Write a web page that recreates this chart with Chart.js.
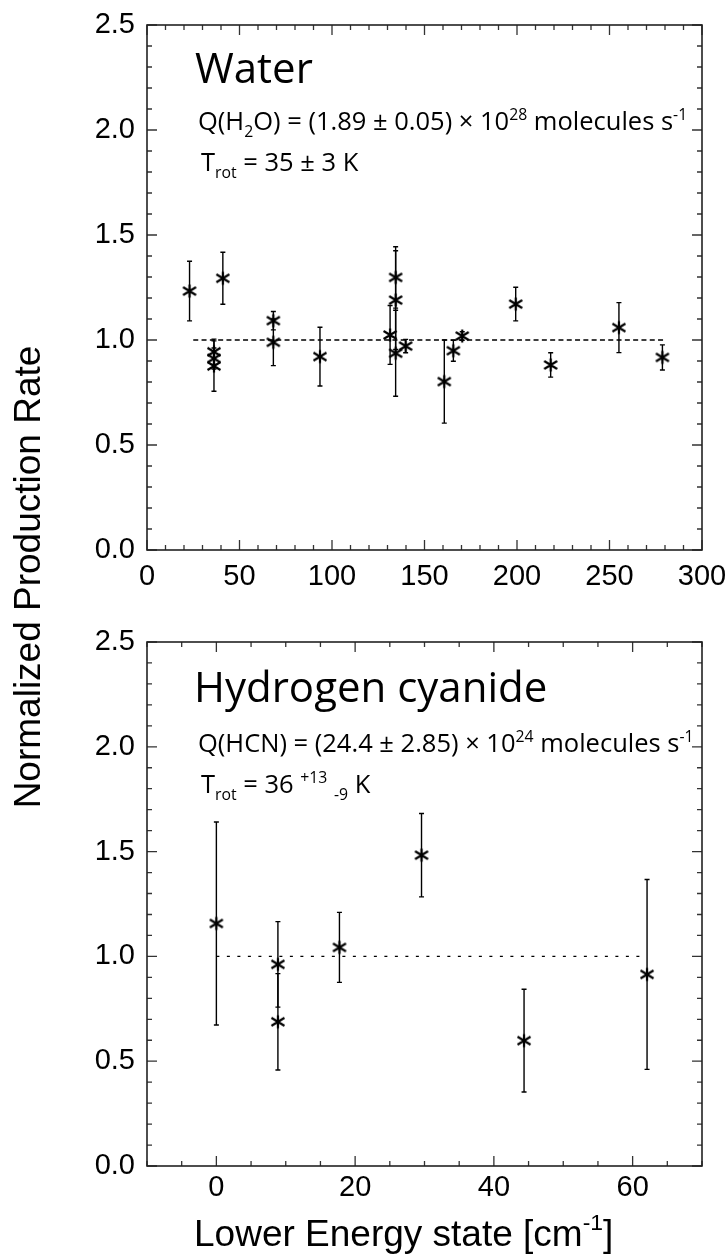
<!DOCTYPE html>
<html><head><meta charset="utf-8">
<script src="https://cdn.jsdelivr.net/npm/chart.js@4.4.1/dist/chart.umd.min.js"></script>
<style>
html,body{margin:0;padding:0;background:#fff;}
#wrap{position:relative;width:728px;height:1255px;overflow:hidden;background:#fff;}
canvas{position:absolute;left:0;}
.ann{position:absolute;white-space:nowrap;font-family:"Open Sans",sans-serif;color:#000;line-height:0;height:0;}
.ann sub,.ann sup{font-size:0.62em;line-height:0;vertical-align:baseline;position:relative;}
.ann sub{top:0.45em;}
.ann sup{top:-0.62em;}
.hel{position:absolute;white-space:nowrap;font-family:"Liberation Sans",Arial,sans-serif;color:#000;line-height:0;height:0;font-size:37px;}
.hel sup{font-size:0.62em;vertical-align:baseline;position:relative;top:-0.7em;line-height:0;}
</style></head><body>
<div id="wrap">
<canvas id="c1" width="728" height="620" style="top:0;width:728px;height:620px"></canvas>
<canvas id="c2" width="728" height="635" style="top:620px;width:728px;height:635px"></canvas>

<div class="ann" style="left:195px;top:67px;font-size:42px">Water</div>
<div class="ann" style="left:198px;top:120px;font-size:25.5px">Q(H<sub>2</sub>O) = (1.89 ± 0.05) × 10<sup>28</sup> molecules s<sup>-1</sup></div>
<div class="ann" style="left:201px;top:161px;font-size:25.5px">T<sub>rot</sub> = 35 ± 3 K</div>

<div class="ann" style="left:194px;top:686px;font-size:42px">Hydrogen cyanide</div>
<div class="ann" style="left:198px;top:742px;font-size:25.5px">Q(HCN) = (24.4 ± 2.85) × 10<sup>24</sup> molecules s<sup>-1</sup></div>
<div class="ann" style="left:201px;top:783px;font-size:25.5px">T<sub>rot</sub> = 36 <sup>+13</sup> <sub>-9</sub> K</div>

<div class="hel" style="left:194px;top:1234px">Lower Energy state [cm<sup>-1</sup>]</div>
<div class="hel" style="left:-272px;top:577px;width:600px;text-align:center;transform:rotate(-90deg);transform-origin:50% 0">Normalized Production Rate</div>
</div>
<script>
// ---------- data ----------
const waterE   = [23, 41, 36.2, 36.2, 36.2, 68.3, 68.3, 93.5, 131.4, 134.4, 134.4, 134.4, 139.8, 160.7, 165.6, 170.4, 199.3, 218.2, 255.1, 278.6];
const waterQ   = [1.233, 1.294, 0.944, 0.912, 0.876, 1.092, 0.989, 0.921, 1.024, 1.298, 1.190, 0.937, 0.971, 0.802, 0.949, 1.019, 1.171, 0.881, 1.059, 0.917];
const waterErr = [0.142, 0.124, 0.060, 0.050, 0.120, 0.044, 0.111, 0.140, 0.140, 0.146, 0.235, 0.205, 0.032, 0.198, 0.050, 0.020, 0.080, 0.058, 0.119, 0.060];
const waterFitE = [25, 279];
const waterFitQ = [1.0, 1.0];

const hcnE   = [0, 8.87, 8.87, 17.74, 29.57, 44.35, 62.08];
const hcnQ   = [1.157, 0.962, 0.688, 1.043, 1.483, 0.598, 0.914];
const hcnErr = [0.484, 0.204, 0.230, 0.167, 0.199, 0.245, 0.453];
const hcnFitE = [0, 62];
const hcnFitQ = [1.0, 1.0];

const yTicks = [0, 0.5, 1.0, 1.5, 2.0, 2.5];
const yTickLabels = ['0.0', '0.5', '1.0', '1.5', '2.0', '2.5'];
const xTicksWater = [0, 50, 100, 150, 200, 250, 300];
const xTickLabelsWater = ['0', '50', '100', '150', '200', '250', '300'];
const xTicksHcn = [0, 20, 40, 60];
const xTickLabelsHcn = ['0', '20', '40', '60'];

// ---------- marker ----------
function makeStar(){
  const c = document.createElement('canvas'); c.width = 16; c.height = 16;
  const g = c.getContext('2d'); g.strokeStyle = '#000'; g.lineWidth = 2.2;
  g.beginPath();
  g.moveTo(8, 1.5); g.lineTo(8, 14.5);
  g.moveTo(1.5, 4); g.lineTo(14.5, 12);
  g.moveTo(1.5, 12); g.lineTo(14.5, 4);
  g.stroke();
  return c;
}
const star = makeStar();

function makeDecor(E, Q, ERR, xMinor, xMajor, yMinor, yMajor){
  return {
    id: 'decor',
    beforeDatasetsDraw(chart){
      const ctx = chart.ctx, xs = chart.scales.x, ys = chart.scales.y;
      ctx.save(); ctx.strokeStyle = '#000'; ctx.lineWidth = 1.4;
      E.forEach((e, i) => {
        const px = xs.getPixelForValue(e);
        const lo = ys.getPixelForValue(Q[i] - ERR[i]);
        const hi = ys.getPixelForValue(Q[i] + ERR[i]);
        ctx.beginPath();
        ctx.moveTo(px, lo); ctx.lineTo(px, hi);
        ctx.moveTo(px - 2.5, lo); ctx.lineTo(px + 2.5, lo);
        ctx.moveTo(px - 2.5, hi); ctx.lineTo(px + 2.5, hi);
        ctx.stroke();
      });
      ctx.restore();
    },
    afterDraw(chart){
      const ctx = chart.ctx, ca = chart.chartArea, xs = chart.scales.x, ys = chart.scales.y;
      ctx.save();
      ctx.strokeStyle = '#333'; ctx.lineWidth = 1.3;
      ctx.beginPath();
      const ny = Math.round((ys.max - ys.min) / yMinor);
      for (let k = 0; k <= ny; k++){
        const v = ys.min + k * yMinor;
        const major = Math.abs(v / yMajor - Math.round(v / yMajor)) < 1e-6;
        const len = major ? 10 : 5;
        const py = ys.getPixelForValue(v);
        ctx.moveTo(ca.left, py); ctx.lineTo(ca.left + len, py);
        ctx.moveTo(ca.right, py); ctx.lineTo(ca.right - len, py);
      }
      const nx = Math.round((xs.max - xs.min) / xMinor);
      for (let k = 0; k <= nx; k++){
        const v = xs.min + k * xMinor;
        const major = Math.abs(v / xMajor - Math.round(v / xMajor)) < 1e-6;
        const len = major ? 10 : 5;
        const px = xs.getPixelForValue(v);
        ctx.moveTo(px, ca.bottom); ctx.lineTo(px, ca.bottom - len);
        ctx.moveTo(px, ca.top); ctx.lineTo(px, ca.top + len);
      }
      ctx.stroke();
      ctx.strokeStyle = '#222'; ctx.lineWidth = 1.6;
      ctx.strokeRect(ca.left, ca.top, ca.right - ca.left, ca.bottom - ca.top);
      ctx.restore();
    }
  };
}

function makeChart(id, E, Q, ERR, fitE, fitQ, dash, xmin, xmax, xT, xTL, xMinor, xMajor, padTop, xH, xPad){
  const pts = E.map((e, i) => ({x: e, y: Q[i]}));
  const fit = fitE.map((e, i) => ({x: e, y: fitQ[i]}));
  return new Chart(document.getElementById(id), {
    type: 'scatter',
    data: { datasets: [
      { type: 'line', data: fit, borderColor: '#000', borderWidth: 1.4, borderDash: dash, pointRadius: 0, fill: false },
      { data: pts, pointStyle: star, pointRadius: 8, borderColor: '#000', backgroundColor: '#000' }
    ]},
    options: {
      responsive: false, animation: false, events: [],
      layout: { padding: { top: padTop, right: 26, left: 0, bottom: 0 } },
      plugins: { legend: { display: false }, tooltip: { enabled: false } },
      scales: {
        x: { type: 'linear', min: xmin, max: xmax,
          grid: { display: false, drawTicks: false }, border: { display: false },
          ticks: { padding: xPad, color: '#000', font: { family: 'Liberation Sans', size: 29 }, maxRotation: 0, autoSkip: false,
                   callback: (v, i) => xTL[i] },
          afterBuildTicks: s => { s.ticks = xT.map(v => ({ value: v })); },
          afterFit: s => { s.height = xH; s.paddingLeft = 0; s.paddingRight = 0; }
        },
        y: { type: 'linear', min: 0, max: 2.5,
          grid: { display: false, drawTicks: false }, border: { display: false },
          ticks: { padding: 12, color: '#000', font: { family: 'Liberation Sans', size: 29 }, autoSkip: false,
                   callback: (v, i) => yTickLabels[i] },
          afterBuildTicks: s => { s.ticks = yTicks.map(v => ({ value: v })); },
          afterFit: s => { s.width = 147; s.paddingTop = 0; s.paddingBottom = 0; }
        }
      }
    },
    plugins: [makeDecor(E, Q, ERR, xMinor, xMajor, 0.1, 0.5)]
  });
}

makeChart('c1', waterE, waterQ, waterErr, waterFitE, waterFitQ, [5, 3.3], 0, 300, xTicksWater, xTickLabelsWater, 10, 50, 25, 70, 9.5);
makeChart('c2', hcnE, hcnQ, hcnErr, hcnFitE, hcnFitQ, [3, 7.5], -10, 70, xTicksHcn, xTickLabelsHcn, 5, 20, 22, 89, 4.5);
</script>
</body></html>
